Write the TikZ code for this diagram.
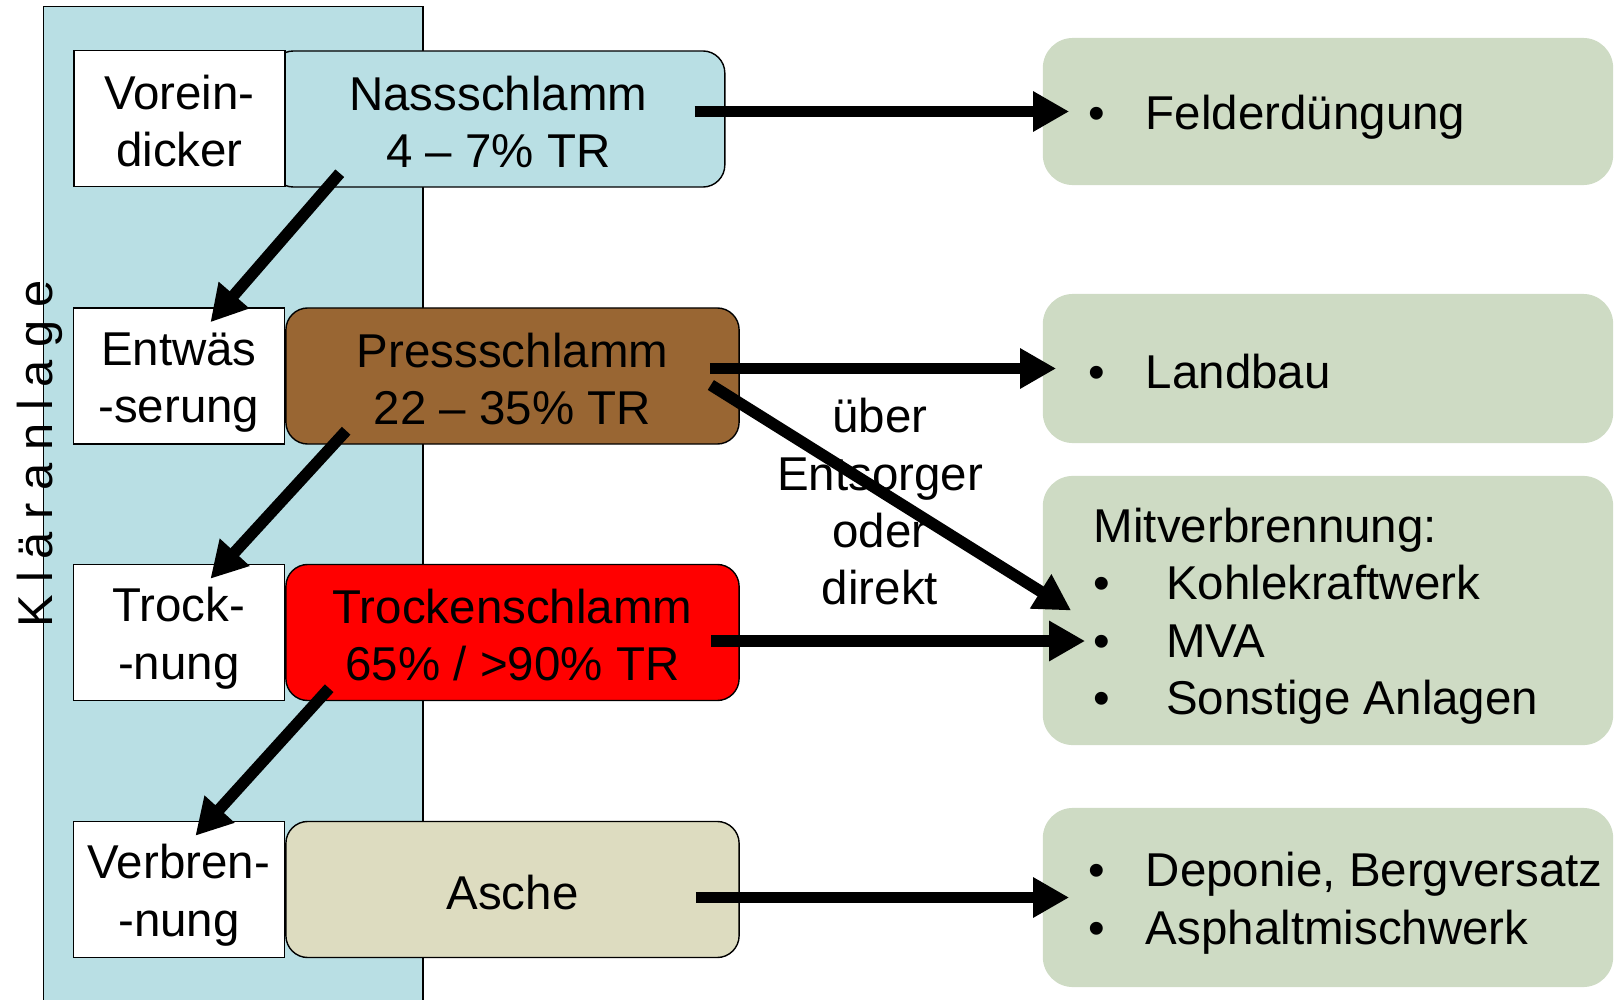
\documentclass[tikz,border=0pt]{standalone}
\usepackage{fontspec}
\setmainfont{Liberation Sans}
\usetikzlibrary{positioning,calc,arrows.meta}

\definecolor{klaerblau}{RGB}{185,223,228}
\definecolor{pressbraun}{RGB}{153,102,51}
\definecolor{aschegrau}{RGB}{221,220,192}
\definecolor{zielgruen}{RGB}{206,219,196}

\newcommand{\obenstrut}{\rule{0pt}{13pt}}
\newcommand{\untenstrut}{\rule[-1.8pt]{0pt}{0pt}}

\begin{document}
\begin{tikzpicture}[x = 0.01cm, y = -0.01cm,
  every node/.style = {font = \fontsize{13.5}{16.3}\selectfont},
  zeilen/.style = {execute at end node = \untenstrut},
  stufe/.style = {draw, fill = white, shape = rectangle, minimum width = 2.11cm, minimum height = 1.36cm, align = center, inner sep = 0pt, zeilen},
  schlamm/.style = {draw, shape = rectangle, rounded corners = 0.22cm, minimum width = 4.53cm, minimum height = 1.36cm, align = center, inner sep = 0pt, zeilen},
  ziel/.style = {fill = zielgruen, shape = rectangle, rounded corners = 0.3cm, minimum width = 5.70cm},
  zieltext/.style = {anchor = west, align = left, inner sep = 0pt, zeilen},
  pfeil/.style = {line width = 3.3pt, -{Triangle[length = 0.36cm, width = 0.38cm]}}]
\useasboundingbox (0,0) rectangle (1614,1000);

% Klaeranlage
\node[draw, fill = klaerblau, shape = rectangle, anchor = north west, minimum width = 3.79cm, minimum height = 10.1cm] (anlage) at (43,6) {};
\node[rotate = 90, anchor = base, font = \fontsize{13.9}{16}\selectfont] (ka) at (53,454)
  {K\kern3.6pt l\kern3.6pt ä\kern3.6pt r\kern3.6pt a\kern3.6pt n\kern3.6pt l\kern3.6pt a\kern3.6pt g\kern3.6pt e};

% Schlammarten
\node[schlamm, fill = klaerblau] (nass) at (498.2,119) {\obenstrut Nassschlamm\\4 – 7\% TR};
\node[schlamm, fill = pressbraun] (press) at (512.5,376) {\obenstrut Pressschlamm\\22 – 35\% TR};
\node[schlamm, fill = red] (trocken) at (512.5,632.5) {\obenstrut Trockenschlamm\\65\% / >90\% TR};
\node[schlamm, fill = aschegrau] (asche) at (512.5,889.5) {\obenstrut Asche};

% Verfahrensstufen
\node[stufe] (vor) at (179.5,118.5) {\obenstrut Vorein-\\dicker};
\node[stufe, left = 0cm of press] (entw) {\obenstrut Entwäs\\-serung};
\node[stufe, left = 0cm of trocken] (trock) {\obenstrut Trock-\\-nung};
\node[stufe, left = 0cm of asche] (verb) {\obenstrut Verbren-\\-nung};

% Verwertung
\node[ziel, minimum height = 1.47cm] (feld) at (1328,111.5) {};
\node[ziel, minimum height = 1.49cm] (land) at (1328,368.5) {};
\node[ziel, minimum height = 2.69cm] (mitv) at (1328,610.5) {};
\node[ziel, minimum height = 1.79cm] (depo) at (1328,897.5) {};

\node[zieltext] (feldt) at ([xshift = 0.46cm]feld.west) {\obenstrut\textbullet\hspace{11.5pt}Felderdüngung};
\node[zieltext] (landt) at ([xshift = 0.46cm]land.west) {\obenstrut\textbullet\hspace{11.5pt}Landbau};
\node[zieltext] (mitvt) at ([xshift = 0.51cm]mitv.west)
  {\obenstrut Mitverbrennung:\\\textbullet\hspace{15.8pt}Kohlekraftwerk\\\textbullet\hspace{15.8pt}MVA\\\textbullet\hspace{15.8pt}Sonstige Anlagen};
\node[zieltext] (depot) at ([xshift = 0.46cm]depo.west) {\obenstrut\textbullet\hspace{11.5pt}Deponie, Bergversatz\\\textbullet\hspace{11.5pt}Asphaltmischwerk};

\node[align = center] (weg) at (880,502) {über\\Entsorger\\oder\\direkt};

% Pfeile
\draw[pfeil] ($(vor.south east)+(54,-14)$) -- ($(entw.north)+(31.5,15)$);
\draw[pfeil] ($(press.south west)+(61,-14)$) -- ($(trock.north)+(31.5,15)$);
\draw[pfeil] ($(trocken.south west)+(44,-13)$) -- ($(verb.north)+(16.5,15)$);

\draw[pfeil] ($(nass.east |- feld.west)+(-31,0)$) -- ($(feld.west)+(27,0)$);
\draw[pfeil] ($(press.east |- land.west)+(-30,0)$) -- ($(land.west)+(14,0)$);
\draw[pfeil] ($(press.east)+(-29,9)$) -- ($(mitv.west)+(29,0)$);
\draw[pfeil] ($(trocken.east)+(-29,8.5)$) -- ($(mitv.west)+(43,30.5)$);
\draw[pfeil] ($(asche.east |- depo.west)+(-44,0)$) -- ($(depo.west)+(27,0)$);
\end{tikzpicture}
\end{document}
